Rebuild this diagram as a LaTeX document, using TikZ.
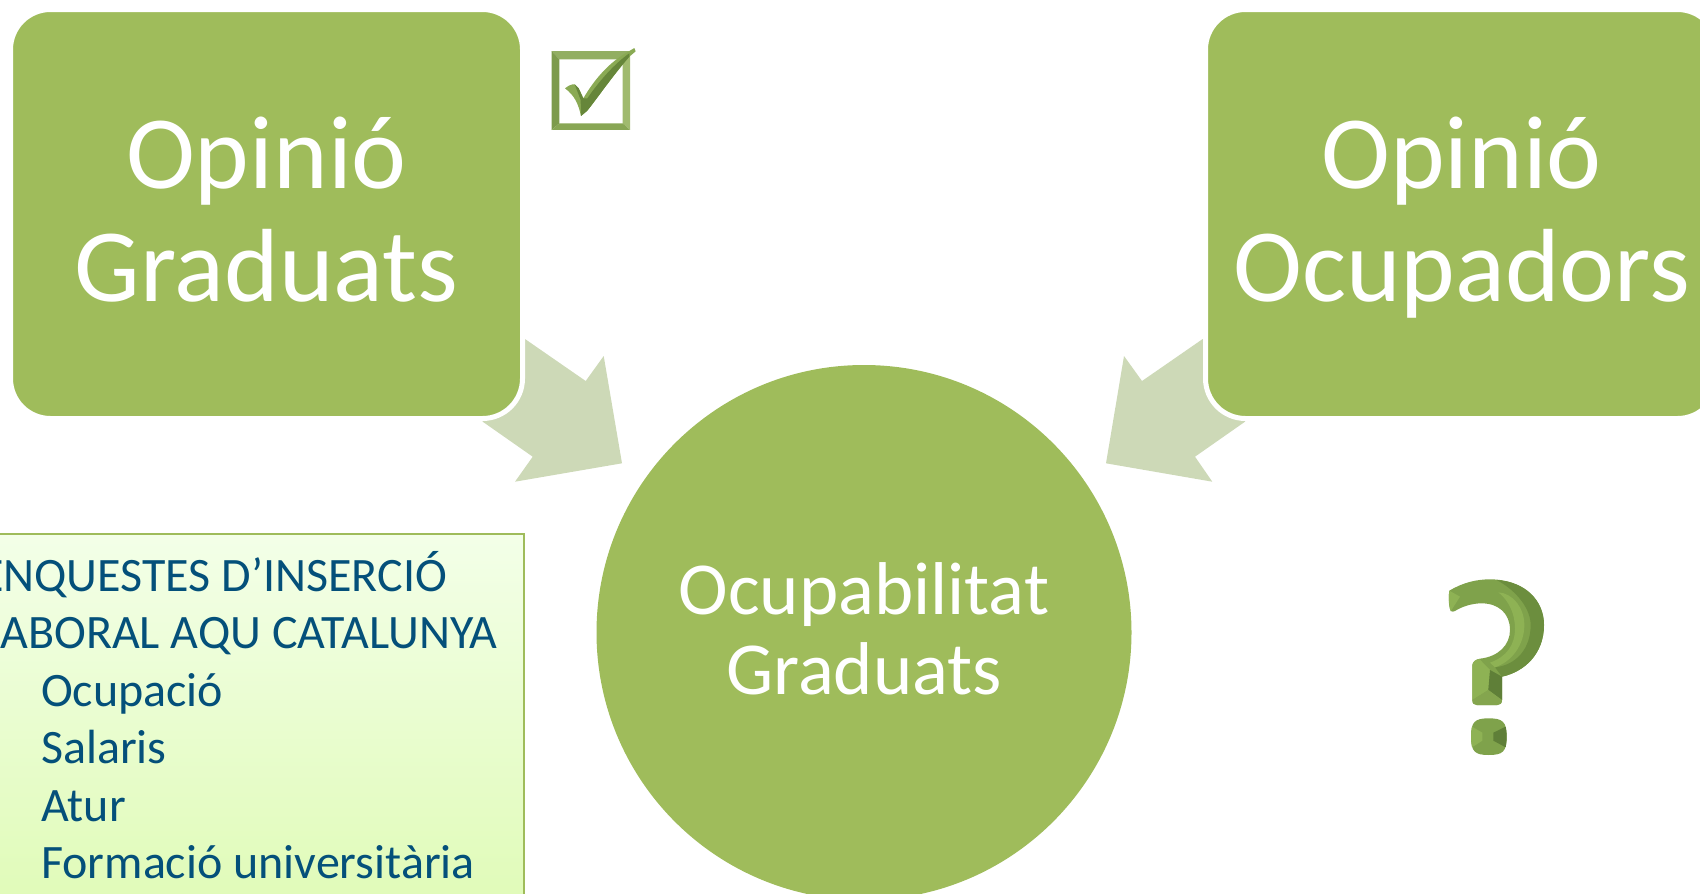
\documentclass[tikz,border=0pt]{standalone}
\usepackage{fontspec}
\setmainfont{Carlito}
\definecolor{leaf}{HTML}{9FBC5B}
\definecolor{pale}{HTML}{CDD9B7}
\definecolor{ink}{HTML}{04507A}
\definecolor{NoteTop}{HTML}{F3FFE8}
\definecolor{NoteBot}{HTML}{E0FBB8}
\definecolor{qmid}{HTML}{7FA24B}
\definecolor{qdark}{HTML}{6C8E3E}
\definecolor{qdeep}{HTML}{5F7F38}
\definecolor{qlight}{HTML}{8EB254}
\definecolor{qlow}{HTML}{84A54E}
\newcommand\bigpair[2]{\rule{0pt}{81.5pt}#1\\#2\rule[-20pt]{0pt}{20pt}}
\newcommand\midpair[2]{\rule{0pt}{64.5pt}#1\\#2\rule[-20pt]{0pt}{20pt}}
\tikzset{
  x=1pt,y=-1pt,
  bigbox/.style={draw=white,line width=5pt,fill=leaf,rounded corners=40pt,minimum width=512pt,minimum height=409pt,inner sep=0pt,text=white,align=center,font=\fontsize{104}{113}\selectfont},
  hub/.style={circle,fill=leaf,minimum size=535pt,inner sep=0pt,text=white,align=center,font=\fontsize{74.8}{80}\selectfont},
  blockarrow/.style={fill=pale,draw=none},
  notebox/.style={draw=leaf,line width=2.5pt,top color=NoteTop,bottom color=NoteBot,minimum width=532pt,minimum height=370pt,inner sep=0pt},
  notetext/.style={inner sep=0pt,text=ink,align=left,font=\fontsize{48}{57.5}\selectfont},
}
\begin{document}
\begin{tikzpicture}
\useasboundingbox (0,0) rectangle (1700,894);
\clip (0,0) rectangle (1700,894);
% block arrows
\fill[blockarrow] (525,339) -- (585.7,381) -- (603.7,356) -- (622,463.3) -- (515,481.7) -- (532.7,456.7) -- (482.7,421.7) -- (470,380) -- cycle;
\fill[blockarrow] (1202.7,339) -- (1142,381) -- (1124,356) -- (1106,463.3) -- (1212.3,481.7) -- (1195,456.7) -- (1245,421.7) -- (1260,380) -- cycle;
% boxes
\node[bigbox] (graduats) at (266.5,214) {\bigpair{Opinió}{Graduats}};
\node[bigbox] (ocupadors) at (1461.5,214) {\bigpair{Opinió}{Ocupadors}};
\node[hub] (hub) at (864,632.5) {\midpair{Ocupabilitat}{Graduats}};
% note
\node[notebox] (note) at (258,719) {};
\node[notetext,anchor=north west] (notetxt) at (-20,551) {\rule{0pt}{40pt}ENQUESTES D’INSERCIÓ\\LABORAL AQU CATALUNYA\\\hspace{61pt}Ocupació\\\hspace{61pt}Salaris\\\hspace{61pt}Atur\\\hspace{61pt}Formació universitària};
% check box
\begin{scope}[shift={(500,20)},scale=1/3]
\fill[color={rgb,255:red,146;green,174;blue,98}] (155,93) -- (390,93) -- (368,118) -- (178,118) -- cycle;
\fill[color={rgb,255:red,125;green,155;blue,76}] (155,93) -- (178,118) -- (178,310) -- (155,330) -- cycle;
\fill[color={rgb,255:red,160;green,186;blue,110}] (390,93) -- (390,330) -- (368,310) -- (368,118) -- cycle;
\fill[color={rgb,255:red,136;green,166;blue,84}] (155,330) -- (178,310) -- (368,310) -- (390,330) -- cycle;
\fill[color={rgb,255:red,138;green,170;blue,84}] (195,205) .. controls (205,197) and (215,192) .. (224,193) -- (236,205) -- (250,235) .. controls (285,175) and (330,125) .. (385,95) -- (403,84) -- (407,94) -- (388,110) .. controls (340,165) and (295,230) .. (262,272) -- (243,288) .. controls (235,250) and (222,225) .. cycle;
\fill[color={rgb,255:red,102;green,134;blue,58}] (224,193) -- (236,205) -- (250,235) -- (262,235) .. controls (300,180) and (345,130) .. (388,100) -- (388,110) .. controls (340,165) and (295,230) .. (262,272) -- (243,288) -- (242,240) -- cycle;
\end{scope}
% question mark
\begin{scope}[shift={(1400,550)},scale=1/3]
\fill[qmid] (148,122) .. controls (190,97) and (230,88) .. (270,88) .. controls (370,88) and (432,150) .. (432,225) .. controls (432,310) and (375,365) .. (306,380) -- (306,450) .. controls (306,460) and (300,465) .. (292,465) -- (230,465) .. controls (222,465) and (217,460) .. (217,450) -- (217,345) .. controls (218,335) and (228,328) .. (240,326) .. controls (295,320) and (330,285) .. (330,240) .. controls (330,190) and (295,160) .. (245,160) .. controls (215,160) and (185,170) .. (165,183) .. controls (155,188) and (150,182) .. (149,175) .. controls (146,160) and (145,140) .. cycle;
\fill[qdark] (290,90) .. controls (375,95) and (432,150) .. (432,225) .. controls (432,310) and (375,365) .. (306,380) -- (285,352) .. controls (350,345) and (392,295) .. (392,225) .. controls (392,180) and (355,125) .. cycle;
\fill[qlight] (295,127) .. controls (340,130) and (373,175) .. (373,225) .. controls (373,285) and (335,335) .. (285,352) -- (270,338) .. controls (320,320) and (345,285) .. (345,235) .. controls (345,190) and (325,150) .. cycle;
\fill[qlight] (148,122) -- (180,140) -- (152,184) .. controls (146,160) and (145,140) .. cycle;
\fill[qlight] (217,345) .. controls (218,335) and (228,328) .. (238,327) -- (270,360) -- (265,420) -- (217,450) -- cycle;
\fill[qdeep] (270,360) -- (306,380) -- (306,450) -- (265,420) -- cycle;
\fill[qlow] (217,450) -- (265,420) -- (306,450) .. controls (306,460) and (300,465) .. (292,465) -- (230,465) .. controls (222,465) and (217,460) .. cycle;
\fill[qmid] (213,560) .. controls (213,515) and (225,505) .. (266,505) .. controls (308,505) and (320,515) .. (320,560) .. controls (320,605) and (308,615) .. (266,615) .. controls (225,615) and (213,605) .. cycle;
\fill[qlight] (216,530) -- (247,548) -- (247,572) -- (216,592) .. controls (212,570) and (212,550) .. cycle;
\fill[qdeep] (317,530) -- (280,548) -- (280,572) -- (317,592) .. controls (321,570) and (321,550) .. cycle;
\end{scope}
\end{tikzpicture}
\end{document}
